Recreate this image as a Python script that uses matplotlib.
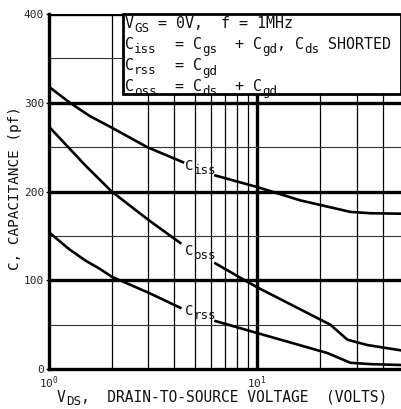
import matplotlib
matplotlib.use('Agg')
import matplotlib.pyplot as plt
from matplotlib.patches import Rectangle
from matplotlib.ticker import FixedLocator, NullFormatter

plt.rcParams['font.family'] = ['DejaVu Sans Mono']
plt.rcParams['mathtext.fontset'] = 'custom'
plt.rcParams['mathtext.rm'] = 'DejaVu Sans Mono'
plt.rcParams['mathtext.it'] = 'DejaVu Sans Mono'
plt.rcParams['mathtext.default'] = 'rm'

W, H, DPI = 401, 409, 100
INK = '#111111'

# curve segments (split where the curve labels sit)
ciss_x1 = [1.0, 1.26, 1.57, 2.0, 2.96, 4.4]
ciss_y1 = [318, 300, 285, 272, 250, 233]
ciss_x2 = [6.3, 10.0, 16.1, 28.0, 35.0, 49.0]
ciss_y2 = [218, 205, 190, 177, 175.5, 175]

coss_x1 = [1.0, 1.5, 2.0, 3.0, 4.27]
coss_y1 = [273, 229, 200, 168, 142]
coss_x2 = [6.3, 8.7, 10.0, 22.4, 27.1, 33.8, 49.0]
coss_y2 = [119, 100, 92, 50, 33, 27, 21]

crss_x1 = [1.0, 1.25, 1.5, 1.75, 2.0, 3.0, 4.27]
crss_y1 = [154, 135, 122, 113, 104, 86, 69]
crss_x2 = [6.3, 10.0, 21.7, 28.0, 35.0, 49.0]
crss_y2 = [54, 40.5, 18, 7, 5.5, 4.5]

# text pieces: (text, is_subscript)
curve_labels = [[('C', 0), ('iss', 1)],
                [('C', 0), ('oss', 1)],
                [('C', 0), ('rss', 1)]]
curve_label_pos = [(185, 170), (185, 255), (185, 315)]

box_lines = [[('V', 0), ('GS', 1), (' = 0V,  f = 1MHz', 0)],
             [('C', 0), ('iss', 1), ('  = C', 0), ('gs', 1), ('  + C', 0),
              ('gd', 1), (', C', 0), ('ds', 1), (' SHORTED', 0)],
             [('C', 0), ('rss', 1), ('  = C', 0), ('gd', 1)],
             [('C', 0), ('oss', 1), ('  = C', 0), ('ds', 1), ('  + C', 0),
              ('gd', 1)]]
box_baselines = [28, 49, 70.5, 91]

xlabel_parts = [('V', 0), ('DS', 1), (',  DRAIN-TO-SOURCE VOLTAGE  (VOLTS)', 0)]
ylabel_text = 'C, CAPACITANCE (pf)'


def rich_text(fig, x_px, y_px, parts, size, sub_size, drop):
    '''Lay out text pieces left to right, subscripts lowered, mono font.'''
    x_pos = x_px
    for piece, is_sub in parts:
        fsize = sub_size if is_sub else size
        char_w = 0.602 * fsize * DPI / 72.0
        lead = len(piece) - len(piece.lstrip(' '))
        y_pos = y_px + (drop if is_sub else 0)
        fig.text((x_pos + lead * char_w) / W, 1 - y_pos / H, piece.strip(' '),
                 fontsize=fsize, ha='left', va='baseline', color=INK,
                 zorder=10)
        x_pos += len(piece) * char_w


fig = plt.figure(figsize=(W / DPI, H / DPI), dpi=DPI)
ax = fig.add_axes([49 / W, 40 / H, 352 / W, 355 / H])
ax.set_xscale('log')
ax.set_xlim(1, 49)
ax.set_ylim(0, 400)

# grid
for xv in [2, 3, 4, 5, 6, 7, 8, 9, 20, 30, 40]:
    ax.axvline(xv, color='black', lw=0.9, zorder=1)
ax.axvline(10, color='black', lw=2.4, zorder=1)
for yv in [50, 150, 250, 350]:
    ax.axhline(yv, color='#333333', lw=0.8, zorder=1)
for yv in [100, 200, 300, 400]:
    ax.axhline(yv, color='black', lw=2.4, zorder=1)

for xs, ys in [(ciss_x1, ciss_y1), (ciss_x2, ciss_y2), (coss_x1, coss_y1),
               (coss_x2, coss_y2), (crss_x1, crss_y1), (crss_x2, crss_y2)]:
    ax.plot(xs, ys, color='black', lw=1.9, zorder=3,
            solid_joinstyle='round')

# condition box
ax.add_patch(Rectangle((2.27, 310), 49 - 2.27, 90, facecolor='white',
                       edgecolor='black', lw=2.0, zorder=5, clip_on=False))
for parts, base in zip(box_lines, box_baselines):
    rich_text(fig, 125, base, parts, 10.8, 9.0, 4)

for parts, (lx, ly) in zip(curve_labels, curve_label_pos):
    rich_text(fig, lx, ly, parts, 10.0, 9.0, 4)

for side in ['left', 'bottom']:
    ax.spines[side].set_linewidth(2.4)
ax.spines['right'].set_visible(False)
ax.spines['top'].set_visible(False)

ax.set_yticks([0, 100, 200, 300, 400])
ax.xaxis.set_major_locator(FixedLocator([1, 10]))
ax.xaxis.set_minor_formatter(NullFormatter())
ax.tick_params(axis='both', which='major', labelsize=8, length=2, width=1,
               pad=1.5, labelcolor='#222222')
ax.tick_params(axis='x', which='minor', length=0)
ax.tick_params(axis='x', which='major', length=0, pad=4)

rich_text(fig, 57, 402, xlabel_parts, 10.5, 9.0, 3)
fig.text(15 / W, 1 - 188 / H, ylabel_text, fontsize=10.3, rotation=90,
         ha='center', va='center', color=INK)

fig.savefig('out.png', dpi=DPI)
